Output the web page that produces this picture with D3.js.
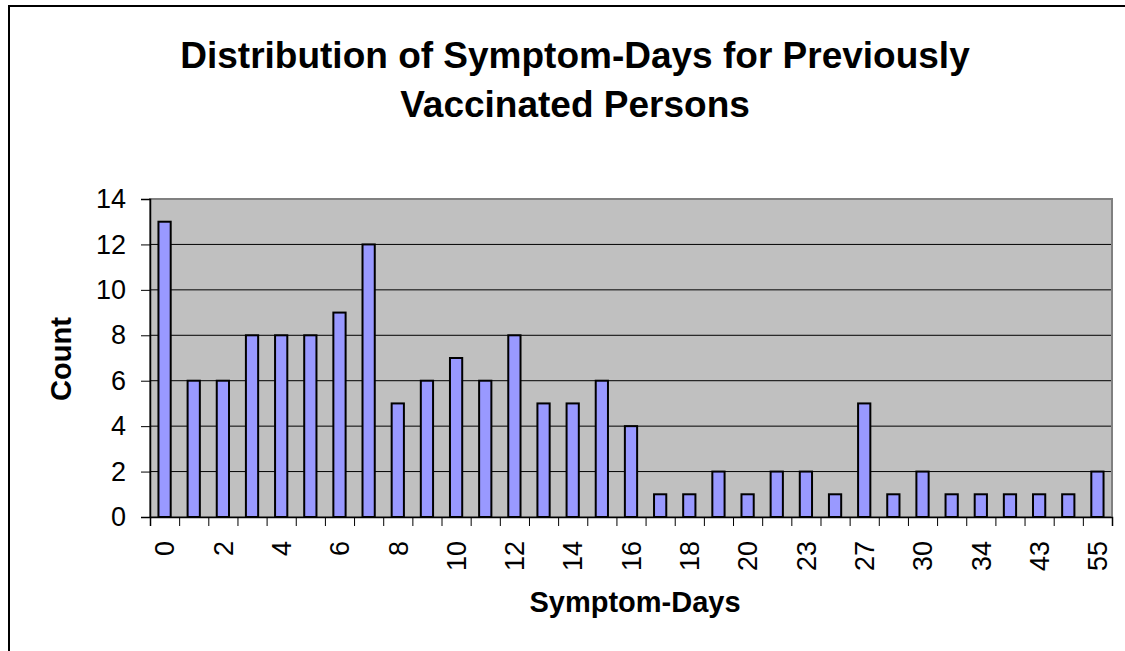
<!DOCTYPE html>
<html>
<head>
<meta charset="utf-8">
<script src="https://cdn.jsdelivr.net/npm/d3@7"></script>
<style>
  body { margin: 0; background: #ffffff; }
  text { font-family: "Liberation Sans", Arial, sans-serif; }
</style>
</head>
<body>
<div id="vis"></div>
<script>
// symptom-days categories (unlabelled ones are estimated) and counts
var days = ["0","1","2","3","4","5","6","7","8","9","10","11","12","13","14","15","16",
            "17","18","19","20","21","23","25","27","28","30","32","34","40","43","50","55"];
var counts = [13,6,6,8,8,8,9,12,5,6,7,6,8,5,5,6,4,
              1,1,2,1,2,2,1,5,1,2,1,1,1,1,1,2];
var yTicks = [0,2,4,6,8,10,12,14];

var data = days.map((d,i) => ({day: d, count: counts[i]}));

var w = 1125;
var h = 651;
var plotLeft = 150, plotRight = 1112, plotTop = 199, plotBottom = 517;

var chart = d3.select("#vis")
              .append("svg")
              .attr("width", w)
              .attr("height", h)
              .style("background-color", "#ffffff")

// outer chart frame
chart.append("rect")
     .attr("x", 9).attr("y", 6)
     .attr("width", 1140).attr("height", 700)
     .attr("fill", "none")
     .attr("stroke", "#000")
     .attr("stroke-width", 2)

const xScale = d3.scaleBand()
            .domain(days)
            .range([plotLeft, plotRight])
            .paddingInner(0.58)
            .paddingOuter(0.29)
// boundaries between categories, for the tick marks
const xEdge = d3.scaleLinear()
            .domain([0, days.length])
            .range([plotLeft, plotRight])

const yScale = d3.scaleLinear()
            .domain([0,14])
            .range([plotBottom, plotTop])

// plot area
chart.append("rect")
     .attr("x", plotLeft).attr("y", plotTop)
     .attr("width", plotRight-plotLeft).attr("height", plotBottom-plotTop)
     .attr("fill", "#c0c0c0")

// gridlines
chart.append("g")
     .selectAll("line")
     .data(yTicks.filter(d => d > 0 && d < 14))
     .enter()
     .append("line")
     .attr("x1", plotLeft).attr("x2", plotRight)
     .attr("y1", d => yScale(d)).attr("y2", d => yScale(d))
     .attr("stroke", "#000")
     .attr("stroke-width", 1)

chart.append("rect")
     .attr("x", plotLeft).attr("y", plotTop)
     .attr("width", plotRight-plotLeft).attr("height", plotBottom-plotTop)
     .attr("fill", "none")
     .attr("stroke", "#808080")
     .attr("stroke-width", 2)

// bars
chart.selectAll(".bar")
     .data(data)
     .enter()
     .append("rect")
     .attr("class", "bar")
     .attr("x", d => xScale(d.day))
     .attr("y", d => yScale(d.count))
     .attr("width", xScale.bandwidth())
     .attr("height", d => plotBottom - yScale(d.count))
     .attr("fill", "#9999ff")
     .attr("stroke", "#000")
     .attr("stroke-width", 2)

// y axis
const yAxis = chart.append("g")
                   .attr("transform", `translate(${plotLeft},0)`)
                   .call(d3.axisLeft(yScale).tickValues(yTicks).tickSize(9).tickPadding(15))
yAxis.select(".domain").attr("stroke", "#000").attr("stroke-width", 1.5)
yAxis.selectAll("line").attr("stroke", "#000")
yAxis.selectAll("text")
     .style("font-size", "27px")
     .attr("fill", "#000")

// x axis tick marks at category boundaries
const xTickAxis = chart.append("g")
                   .attr("transform", `translate(0,${plotBottom})`)
                   .call(d3.axisBottom(xEdge).tickValues(d3.range(days.length+1)).tickSize(9).tickFormat(""))
xTickAxis.select(".domain").attr("stroke", "#000").attr("stroke-width", 1.5)
xTickAxis.selectAll("line").attr("stroke", "#000")

// x labels, every other category
const xAxis = chart.append("g")
                   .attr("transform", `translate(0,${plotBottom})`)
                   .call(d3.axisBottom(xScale).tickSize(0).tickFormat((d,i) => i % 2 === 0 ? d : ""))
xAxis.select(".domain").remove()
xAxis.selectAll("text")
     .attr("transform", "rotate(-90)")
     .attr("x", -24)
     .attr("y", 0)
     .attr("dy", "0.36em")
     .attr("text-anchor", "end")
     .style("font-size", "27px")
     .attr("fill", "#000")

// titles
chart.append("text")
     .attr("x", 575).attr("y", 68)
     .attr("text-anchor", "middle")
     .style("font-size", "37px").style("font-weight", "bold")
     .text("Distribution of Symptom-Days for Previously")
chart.append("text")
     .attr("x", 575).attr("y", 117)
     .attr("text-anchor", "middle")
     .style("font-size", "37px").style("font-weight", "bold")
     .text("Vaccinated Persons")

chart.append("text")
     .attr("x", 635).attr("y", 612)
     .attr("text-anchor", "middle")
     .style("font-size", "29px").style("font-weight", "bold")
     .text("Symptom-Days")

chart.append("text")
     .attr("transform", `translate(71,359) rotate(-90)`)
     .attr("text-anchor", "middle")
     .style("font-size", "29px").style("font-weight", "bold")
     .text("Count")
</script>
</body>
</html>
